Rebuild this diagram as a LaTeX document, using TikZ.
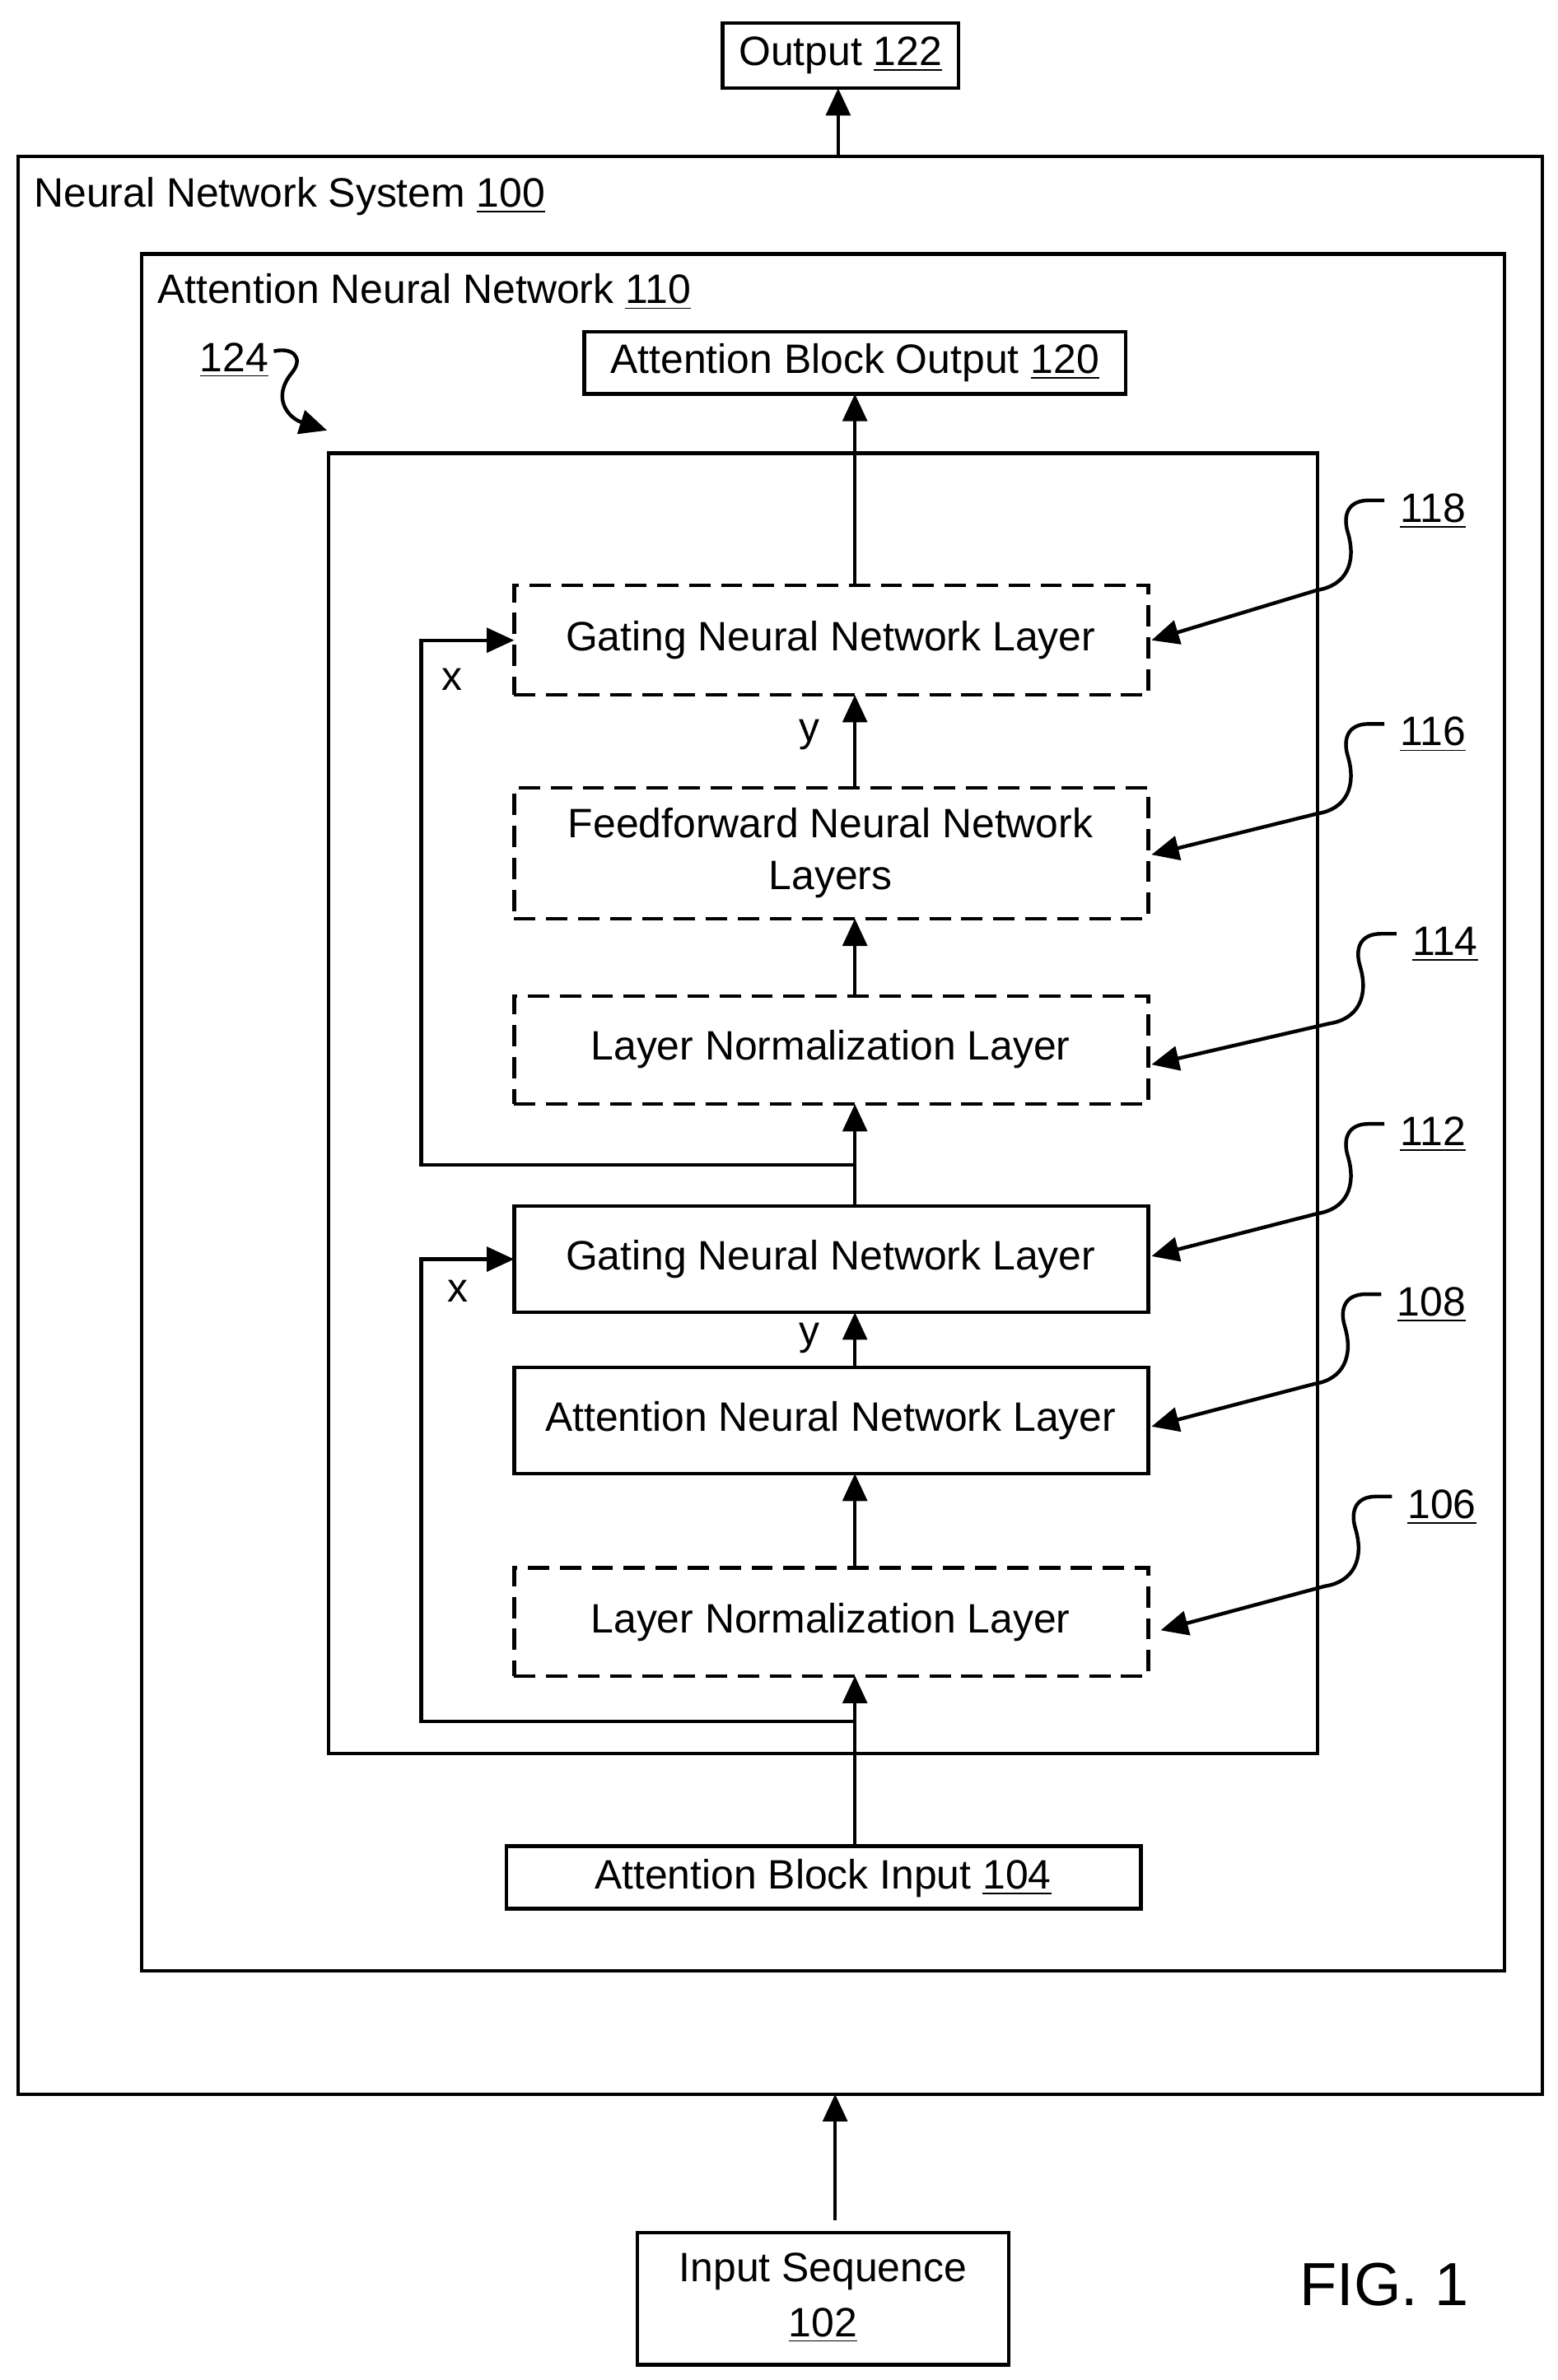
\documentclass[tikz,border=0pt]{standalone}
\usepackage{fontspec}
\setmainfont{Liberation Sans}
\usetikzlibrary{arrows.meta}
\begin{document}
\begin{tikzpicture}[x=0.5pt,y=-0.5pt,
  font=\fontsize{13.5}{16}\selectfont,
  box/.style={draw,line width=1.2pt,inner sep=0pt},
  dbox/.style={box,dash pattern=on 7pt off 3.5pt},
  arr/.style={line width=1.2pt,-{Triangle[length=9pt,width=8pt]}},
  lbl/.style={inner sep=0pt}]
\useasboundingbox (0,0) rectangle (1024,1565);
\newcommand\bx[6]{\node[#1,minimum width={(#4-#2)*0.5pt},minimum height={(#5-#3)*0.5pt},align=center] (#6) at ({(#2+#4)/2},{(#3+#5)/2}) {};}
% frames
\draw[line width=1.2pt] (12,103) rectangle (1014,1377);
\draw[line width=1.2pt] (93,167) rectangle (989,1296);
\draw[line width=1.2pt] (216,298) rectangle (866,1153);
\node[lbl,anchor=west] (sys) at (22,129) {Neural Network System \underline{100}};
\node[lbl,anchor=west] (ann) at (103,192) {Attention Neural Network \underline{110}};
% boxes
\bx{box}{475}{15}{630}{58}{out}
\node[lbl] at (out) {Output \underline{122}};
\bx{box}{384}{218}{740}{259}{abo}
\node[lbl] at (abo) {Attention Block Output \underline{120}};
\bx{dbox}{338}{385}{755}{457}{g2}
\node[lbl] at (546,421) {Gating Neural Network Layer};
\bx{dbox}{338}{518}{755}{604}{ff}
\node[lbl,align=center] at (546,561) {Feedforward Neural Network\\[1pt]Layers};
\bx{dbox}{338}{655}{755}{726}{ln2}
\node[lbl] at (546,690) {Layer Normalization Layer};
\bx{box}{338}{793}{755}{863}{g1}
\node[lbl] at (546,828) {Gating Neural Network Layer};
\bx{box}{338}{899}{755}{969}{att}
\node[lbl] at (546,934) {Attention Neural Network Layer};
\bx{dbox}{338}{1031}{755}{1102}{ln1}
\node[lbl] at (546,1067) {Layer Normalization Layer};
\bx{box}{333}{1214}{750}{1255}{abi}
\node[lbl] at (541,1235) {Attention Block Input \underline{104}};
\bx{box}{419}{1468}{663}{1555}{inp}
\node[lbl,align=center] at (541,1511) {Input Sequence\\[2pt]\underline{102}};
\node[lbl,font=\fontsize{20}{24}\selectfont] (fig) at (910,1502) {FIG. 1};
% main arrows
\coordinate (j1) at (562,1132);
\coordinate (j2) at (562,766);
\draw[arr] (551,103) -- (551,58);
\draw[arr] (549,1460) -- (549,1377);
\draw[arr] (562,1214) -- (562,1102);
\draw[arr] (562,1031) -- (562,969);
\draw[arr] (562,899) -- (562,863);
\draw[arr] (562,793) -- (562,726);
\draw[arr] (562,655) -- (562,604);
\draw[arr] (562,518) -- (562,457);
\draw[arr] (562,385) -- (562,259);
\draw[arr] (j1) -- (277,1132) -- (277,828) -- (338,828);
\draw[arr] (j2) -- (277,766) -- (277,421) -- (338,421);
\node[lbl] at (297,447) {x};
\node[lbl] at (301,849) {x};
\node[lbl] at (532,483) {y};
\node[lbl] at (532,880) {y};
% leaders
\newcommand\leader[5]{%
  \node[lbl,anchor=west] at (#1,#2) {\underline{#5}};
  \draw[arr] (#1-10,#2-7) -- (#1-20,#2-7) .. controls (#1-35,#2-7) and (#1-37,#2+4) .. (#1-34,#2+14)
     .. controls (#1-28,#2+34) and (#1-35,#2+49) .. (#1-54,#2+52) -- (#3,#4);}
\leader{920}{336}{757}{421}{118}
\leader{920}{483}{757}{562}{116}
\leader{928}{621}{757}{700}{114}
\leader{920}{746}{757}{826}{112}
\leader{918}{858}{757}{938}{108}
\leader{925}{991}{763}{1072}{106}
\node[lbl,anchor=west] at (131,237) {\underline{124}};
\draw[arr] (180,231) .. controls (192,228) and (200,235) .. (192,245)
  .. controls (178,262) and (190,275) .. (215,283);
\end{tikzpicture}
\end{document}
